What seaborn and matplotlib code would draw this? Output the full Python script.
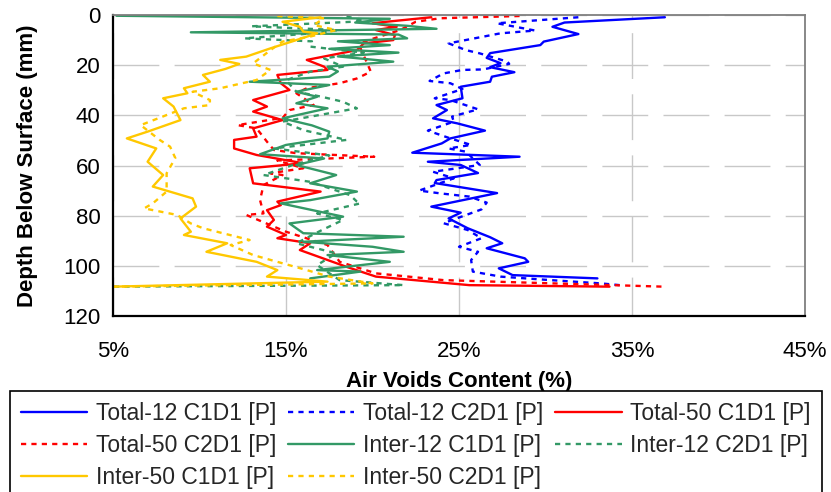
import matplotlib
matplotlib.use("Agg")
import matplotlib.pyplot as plt
from matplotlib.lines import Line2D
from matplotlib.ticker import FuncFormatter
import pandas as pd
import seaborn as sns

sns.set_theme(style="white")
plt.rcParams["font.family"] = ["Liberation Sans", "DejaVu Sans"]

# Air voids profiles: depth below surface (mm) and air voids content (%)
total12_c1_depth = [0.9, 3, 4.7, 7.6, 10.6, 12, 15.2, 17.1, 19.2, 20.8, 22.8, 24.6, 26.6, 28.6,
                    33.2, 35.9, 37.9, 41.2, 43.2, 46.1, 49.2, 51.2, 54.9, 56.5, 58.5, 59.8, 63,
                    65.8, 67, 71, 76.4, 78.8, 81.1, 85, 88.6, 91, 93, 97, 98.4, 101, 103.7, 105]
total12_c1_voids = [36.9, 31.1, 30.4, 31.9, 29.9, 29.7, 26.8, 26.6, 27.4, 26.8, 28.2, 26.9, 26.8, 25.1,
                    25.2, 23.7, 24.3, 23.5, 24.9, 26.5, 24.5, 24.0, 22.3, 28.5, 23.2, 25.1, 26.1,
                    23.7, 23.6, 27.2, 23.4, 25.1, 24.4, 25.5, 26.8, 27.5, 26.6, 28.8, 29.0, 27.3, 28.1, 33.0]

total12_c2_depth = [0.9, 3.3, 6.2, 7.3, 11.3, 14, 15.3, 18.6, 19.5, 21.7, 21.9, 23.3, 26.3, 27.2,
                    29.5, 33.2, 33.9, 37.6, 40.5, 42.5, 46.1, 49.2, 51.8, 53.2, 54.5, 59.8, 62.5,
                    65.1, 70, 71.1, 72.4, 74.8, 77.5, 83, 85.7, 89, 92.4, 94.4, 97.7, 102.3, 104.3,
                    105.7, 107, 107.7]
total12_c2_voids = [31.9, 27.2, 29.4, 27.4, 24.4, 25.4, 26.2, 27.8, 27.9, 26.4, 25.2, 24.1, 23.3, 24.5,
                    25.2, 23.6, 24.5, 26.1, 24.6, 24.7, 23.2, 24.5, 25.7, 24.4, 25.4, 26.2, 23.5,
                    24.7, 22.7, 23.9, 25.6, 26.6, 26.3, 24.1, 25.5, 26.3, 25.0, 26.1, 25.7, 25.8, 27.4,
                    30.3, 33.2, 34.3]

total50_c1_depth = [0.9, 2.7, 3.3, 4.7, 6, 8, 10, 11.3, 14, 17.9, 20.6, 21.9, 23.9, 27.2, 29.9,
                    33.9, 36.5, 38.5, 41.9, 45.2, 48.5, 49.8, 53.2, 55.8, 59.1, 61.1, 67.1, 70.4,
                    74.4, 75.8, 77.8, 81.7, 84.4, 87.7, 89, 91, 93.7, 100.4, 104.3, 107.7, 108.3]
total50_c1_voids = [23.4, 20.8, 20.0, 21.4, 20.2, 21.3, 21.2, 19.5, 19.1, 16.2, 17.2, 17.4, 14.5, 14.7, 15.2,
                    13.1, 13.9, 13.1, 14.8, 13.1, 13.3, 12.0, 12.0, 13.3, 16.0, 12.9, 13.1, 17.0,
                    14.5, 14.7, 13.9, 14.3, 13.9, 15.0, 14.5, 16.4, 15.8, 18.5, 20.2, 25.6, 33.7]

total50_c2_depth = [0.4, 1.3, 2.7, 6, 10.6, 13.3, 19.3, 22.6, 25.3, 27.2, 29.2, 31.2, 35.9, 37.9,
                    41, 43.9, 45.2, 50.5, 53.8, 55.1, 56.5, 58, 61.1, 63.1, 63.8, 67.8, 73.8, 79.1,
                    79.7, 86.4, 91.7, 98.4, 103, 105.7, 108.3]
total50_c2_voids = [28.5, 23.9, 22.5, 21.6, 19.5, 19.3, 19.7, 19.9, 19.1, 18.1, 16.2, 15.6, 16.6, 15.2,
                    14.8, 12.2, 13.3, 13.9, 14.3, 15.6, 20.1, 14.5, 16.0, 14.1, 14.8, 13.7, 13.5, 13.7,
                    12.7, 15.0, 17.4, 18.1, 20.2, 24.1, 36.8]

inter12_c1_depth = [0.3, 1.5, 3, 4.3, 5.5, 6.9, 7.8, 9.3, 10.5, 12, 13.5, 15, 16.5, 18.6, 20.6,
                    22.5, 24.6, 26.6, 27.9, 30.6, 32.6, 35.2, 37.2, 41.2, 44, 46.5, 49.2, 51.8,
                    55.5, 57.2, 59.8, 63.8, 67.1, 70.4, 73.8, 75.1, 80.4, 83.1, 87, 88.4, 90.4,
                    92.4, 94.4, 95.7, 98.4, 101.7, 102.3, 105]
inter12_c1_voids = [5.2, 21.0, 19.0, 22.0, 23.7, 9.5, 21.5, 22.0, 18.0, 21.0, 17.5, 21.5, 18.0, 21.2, 17.4,
                    18.0, 17.5, 12.9, 17.5, 15.6, 16.8, 15.6, 17.4, 14.8, 16.5, 17.5, 17.4, 15.0,
                    13.5, 17.2, 15.6, 17.9, 16.4, 19.1, 16.4, 14.7, 18.3, 15.2, 16.0, 21.8, 16.0,
                    20.0, 21.8, 17.4, 21.0, 16.8, 19.3, 16.4]

inter12_c2_depth = [0.5, 2.5, 4.5, 6, 7.3, 9.3, 10.5, 12.6, 15, 17.3, 20.6, 22.6, 26, 30.6, 32.5,
                    34.6, 37.2, 42.5, 45.9, 49.8, 53.2, 56, 59.8, 63.8, 66.5, 71.8, 74.4, 75.1,
                    79.1, 81.7, 86, 91, 95, 99.7, 105.7, 107.7, 108.3]
inter12_c2_voids = [18.5, 19.5, 13.0, 18.0, 16.6, 12.6, 16.5, 16.4, 19.5, 17.2, 18.3, 16.4, 15.0, 15.6, 17.0,
                    18.3, 19.1, 14.8, 16.0, 18.5, 14.3, 17.5, 15.4, 13.7, 16.4, 18.7, 19.1, 19.3,
                    16.8, 18.3, 17.0, 15.6, 17.9, 16.8, 18.1, 21.8, 5.0]

inter50_c1_depth = [0.9, 2.7, 4.7, 6.6, 7.3, 10, 13.3, 16.6, 17.9, 19.5, 21.5, 23.9, 26.6, 29.2,
                    31.2, 33.2, 36.5, 41.9, 46.5, 49.2, 53.2, 58.5, 63.8, 68.4, 73.1, 76.4, 81.1,
                    86.4, 87.7, 91, 94.4, 98.4, 101.7, 104.3, 106.3, 108.3]
inter50_c1_voids = [17.0, 14.8, 15.8, 16.0, 16.8, 15.6, 14.1, 12.7, 11.2, 12.3, 11.5, 10.2, 10.6, 9.1,
                    9.3, 7.9, 8.5, 8.9, 7.0, 5.8, 7.5, 7.0, 7.9, 7.3, 9.6, 9.8, 8.9,
                    9.5, 9.1, 11.6, 10.4, 13.3, 14.5, 13.9, 17.4, 5.0]

inter50_c2_depth = [0.4, 1.3, 4, 6, 8.6, 10.6, 14, 19.3, 21.9, 25.9, 29.2, 30.6, 33.9, 35.9, 37.2,
                    43.9, 49.8, 52.5, 57, 63.1, 70.4, 75.1, 77.1, 79.7, 83.1, 85, 89.7, 91.7, 95.7,
                    101.7, 104.3, 107, 108.3]
inter50_c2_voids = [14.5, 17.2, 16.6, 17.9, 16.4, 14.8, 14.1, 13.1, 14.1, 13.3, 11.2, 9.6, 10.6, 10.6, 9.1,
                    6.6, 7.7, 8.3, 8.6, 8.1, 8.1, 7.3, 6.8, 8.7, 9.5, 10.2, 12.9, 11.8, 13.1,
                    16.2, 17.5, 20.0, 5.0]

series_labels = ["Total-12 C1D1 [P]", "Total-12 C2D1 [P]", "Total-50 C1D1 [P]",
                 "Total-50 C2D1 [P]", "Inter-12 C1D1 [P]", "Inter-12 C2D1 [P]",
                 "Inter-50 C1D1 [P]", "Inter-50 C2D1 [P]"]
series_depths = [total12_c1_depth, total12_c2_depth, total50_c1_depth, total50_c2_depth,
                 inter12_c1_depth, inter12_c2_depth, inter50_c1_depth, inter50_c2_depth]
series_voids = [total12_c1_voids, total12_c2_voids, total50_c1_voids, total50_c2_voids,
                inter12_c1_voids, inter12_c2_voids, inter50_c1_voids, inter50_c2_voids]

x_ticks = [5, 15, 25, 35, 45]
y_ticks = [0, 20, 40, 60, 80, 100, 120]

blue, red, green, yellow = "#0000FF", "#FF0000", "#339966", "#FFC800"
colors = [blue, blue, red, red, green, green, yellow, yellow]
dotted = (2.2, 2.2)
dash_styles = ["", dotted, "", dotted, "", dotted, "", dotted]

frames = []
for label, d, v in zip(series_labels, series_depths, series_voids):
    frames.append(pd.DataFrame({"series": label, "depth": d, "voids": v}))
df = pd.concat(frames, ignore_index=True)

W, H = 831, 492
fig = plt.figure(figsize=(W / 100, H / 100), dpi=100)
ax = fig.add_axes([113 / W, 1 - 316 / H, (805 - 113) / W, (316 - 15) / H])

sns.lineplot(data=df, x="voids", y="depth", hue="series", style="series",
             hue_order=series_labels, style_order=series_labels,
             palette=dict(zip(series_labels, colors)),
             dashes=dict(zip(series_labels, dash_styles)),
             sort=False, estimator=None, linewidth=1.7, legend=False, ax=ax)

ax.set_xlim(x_ticks[0], x_ticks[-1])
ax.set_ylim(y_ticks[-1], y_ticks[0])
ax.set_xticks(x_ticks)
ax.set_yticks(y_ticks)
ax.xaxis.set_major_formatter(FuncFormatter(lambda v, p: f"{v:.0f}%"))

# dashed grey grid
ax.set_axisbelow(True)
ax.yaxis.grid(True, color="#c8c8c8", linewidth=1.0, linestyle=(0, (33, 11)))
ax.xaxis.grid(True, color="#c8c8c8", linewidth=1.0, linestyle=(5, (33, 11)))

for side in ("left", "bottom"):
    ax.spines[side].set_color("black")
    ax.spines[side].set_linewidth(1.6)
for side in ("top", "right"):
    ax.spines[side].set_color("#7f7f7f")
    ax.spines[side].set_linewidth(1.3)

ax.tick_params(axis="both", direction="in", length=5, width=1.4, colors="black",
               labelsize=16)
ax.tick_params(axis="x", pad=18)
ax.tick_params(axis="y", pad=9)

ax.set_xlabel("Air Voids Content (%)", fontsize=16, fontweight="bold", color="black")
ax.set_ylabel("Depth Below Surface (mm)", fontsize=16, fontweight="bold", color="black")
ax.xaxis.label.set_verticalalignment("center")
ax.xaxis.set_label_coords(0.5, (316 - 382) / (316 - 15))
ax.yaxis.label.set_verticalalignment("center")
ax.yaxis.set_label_coords((28 - 113) / (805 - 113), 0.5)

handles = [Line2D([], [], color=c, linewidth=1.7,
                  linestyle="-" if ds == "" else (0, ds))
           for c, ds in zip(colors, dash_styles)]
order = [0, 3, 6, 1, 4, 7, 2, 5]
leg = fig.legend([handles[i] for i in order], [series_labels[i] for i in order],
                 ncol=3, loc="upper left", mode="expand",
                 bbox_to_anchor=(9.6 / W, 1 - 396 / H, (822 - 9.6) / W, 0.01),
                 fontsize=16.5, frameon=True, fancybox=False, edgecolor="black",
                 framealpha=1, handlelength=2.9, handletextpad=0.38,
                 labelspacing=0.4, borderpad=0.48, borderaxespad=0, columnspacing=0.5)
leg.get_frame().set_linewidth(1.2)

fig.savefig("out.png", dpi=100)
